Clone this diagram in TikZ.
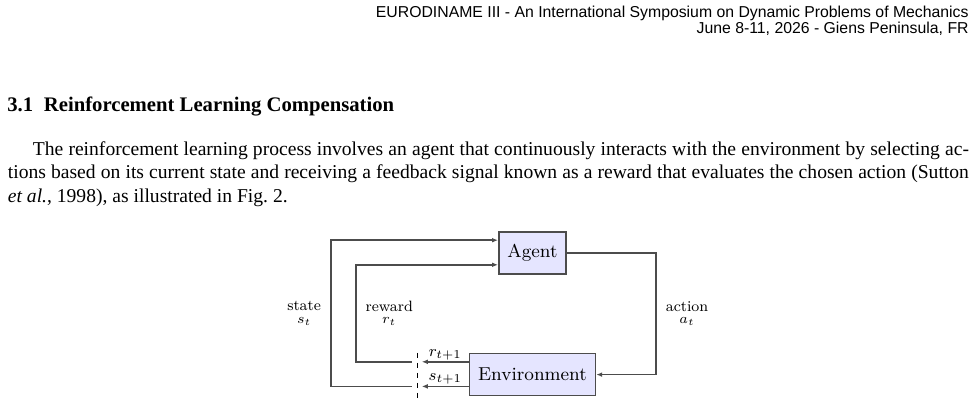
\documentclass[tikz,border=0pt]{standalone}
\usepackage{fontspec}
\newfontfamily\timesfont{Liberation Serif}
\newfontfamily\helvfont{Liberation Sans}
\usetikzlibrary{arrows.meta,positioning,calc}

\begin{document}
\begin{tikzpicture}[
  x=0.5pt,y=-0.5pt,
  >={Latex[length=3pt,width=2.4pt]},
  block/.style={draw=black!70,line width=0.8pt,fill=blue!10,minimum height=21pt,
    inner xsep=4.3pt,inner ysep=0pt,font=\fontsize{9.35}{11}\selectfont},
  link/.style={draw=black!70,line width=0.8pt},
  cut/.style={draw=black,line width=0.6pt,dash pattern=on 2.5pt off 2.5pt},
  lbl/.style={font=\fontsize{7.5}{6.2}\selectfont,align=center,inner xsep=4.5pt},
  sig/.style={font=\fontsize{8.5}{10}\selectfont,inner ysep=0.5pt},
  headline/.style={font=\helvfont\fontsize{7.9}{9.5}\selectfont,anchor=base east,inner sep=0pt},
  bodytext/.style={font=\timesfont\fontsize{9.8}{11.75}\selectfont,inner sep=0pt}
]
\useasboundingbox (0,0) rectangle (977,401);

% page header
\node[headline] (hdrA) at (969,17.3) {EURODINAME III - An International Symposium on Dynamic Problems of Mechanics};
\node[headline] (hdrB) at (969,33.3) {June 8-11, 2026 - Giens Peninsula, FR};

% section title and text
\node[bodytext,anchor=base west,font=\timesfont\bfseries\fontsize{10.35}{12}\selectfont] (sec) at (7,111.5)
  {3.1\hspace{5.3pt}Reinforcement Learning Compensation};
\node[bodytext,anchor=base west,text width=480.5pt,align=justify] (para) at (7.5,155)
  {\hspace*{12.5pt}The reinforcement learning process involves an agent that continuously interacts with the environment by selecting ac-\linebreak
  tions based on its current state and receiving a feedback signal known as a reward that evaluates the chosen action (Sutton\linebreak
  {\itshape et al.}, 1998), as illustrated in Fig.~2.};

% agent and environment
\node[block] (agent) at (532.5,253) {Agent};
\node[block,below=39pt of agent] (env) {Environment};

\coordinate (sIn) at ($(agent.north west)+(0,9)$);
\coordinate (rIn) at ($(agent.south west)+(0,-10)$);
\coordinate (rOut) at ($(env.north west)+(0,9)$);
\coordinate (sOut) at ($(env.south west)+(0,-10)$);
\coordinate (rCut) at ($(rOut)+(-57,0)$);
\coordinate (sCut) at ($(sOut)+(-57,0)$);

% action
\draw[link,->] (agent.east) -- ++(89,0) |- node[lbl,right,pos=0.25] {action\\$a_t$} (env.east);

% next reward and state
\draw[link,->] (rOut) -- ++(-47,0) node[sig,above,midway] {$r_{t+1}$};
\draw[link,->] (sOut) -- ++(-47,0) node[sig,above,midway] {$s_{t+1}$};
\draw[cut] ($(env.north west)+(-51,0)$) -- ($(env.south west)+(-51,3)$);

% feedback to agent
\draw[link,->] (rCut) -- ++(-56,0) |- node[lbl,right,pos=0.25] {reward\\$r_t$} (rIn);
\draw[link,->] (sCut) -- ++(-81,0) |- node[lbl,left,pos=0.25] {state\\$s_t$} (sIn);

\end{tikzpicture}
\end{document}
